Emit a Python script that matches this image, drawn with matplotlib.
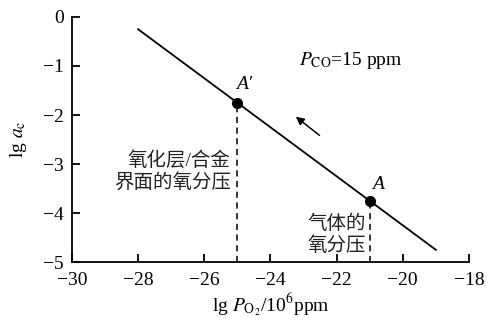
import matplotlib
matplotlib.use('Agg')
import matplotlib.pyplot as plt

plt.rcParams['font.family'] = ['Liberation Serif', 'Noto Sans CJK SC']
plt.rcParams['mathtext.fontset'] = 'stix'

# line lg a_c vs lg P_O2
line_x = [-28, -19]
line_y = [-0.25, -4.75]
# marked points A' and A
pts_x = [-25, -21]
pts_y = [-1.75, -3.75]
pts_lab = ["A\u2032", "A"]

xticks = [-30, -28, -26, -24, -22, -20, -18]
yticks = [0, -1, -2, -3, -4, -5]

fig = plt.figure(figsize=(4.89, 3.2), dpi=100)
ax = fig.add_axes([0.147, 0.181, 0.812, 0.766])

ax.plot(line_x, line_y, color='black', lw=1.3)
ax.plot(pts_x, pts_y, 'o', color='black', ms=7)
# dashed drop lines to x axis
for x, y in zip(pts_x, pts_y):
    ax.plot([x, x], [-5, y], color='black', lw=1.1, ls=(0, (4, 3)))

ax.text(-24.78, -1.38, pts_lab[0], fontsize=14, style='italic',
        ha='center', va='center')
ax.text(-20.75, -3.42, pts_lab[1], fontsize=14, style='italic',
        ha='center', va='center')

# arrow showing direction
ax.annotate('', xy=(-23.3, -2.0), xytext=(-22.45, -2.45),
            arrowprops=dict(arrowstyle='-|>', color='black', lw=1.1,
                            mutation_scale=12))

ax.text(-23.15, -0.88, '$P_{\\rm CO}$=15 ppm', fontsize=14, ha='left', va='center')
ax.text(-25.2, -3.15, '氧化层/合金\n界面的氧分压', fontsize=14, ha='right',
        va='center', linespacing=1.2, color='#222222')
ax.text(-21.1, -4.45, '气体的\n氧分压', fontsize=14, ha='right',
        va='center', linespacing=1.2, color='#222222')

ax.set_xlim(-30, -18)
ax.set_ylim(-5, 0)
ax.set_xticks(xticks)
ax.set_yticks(yticks)
ax.set_xticklabels(['\u2212%d' % abs(t) for t in xticks])
ax.set_yticklabels(['0' if t == 0 else '\u2212%d' % abs(t) for t in yticks])
ax.tick_params(direction='in', length=6, width=1.3, labelsize=14)
ax.tick_params(axis='x', pad=7)
ax.tick_params(axis='y', pad=6)
for s in ['top', 'right']:
    ax.spines[s].set_visible(False)
for s in ['left', 'bottom']:
    ax.spines[s].set_linewidth(1.3)

ax.set_xlabel('lg $P_{\\rm O_2}$/10$^6$ppm', fontsize=14, labelpad=2)
ax.set_ylabel('lg $a_{\\rm c}$', fontsize=14, labelpad=10)

fig.savefig('out.png', dpi=100)
